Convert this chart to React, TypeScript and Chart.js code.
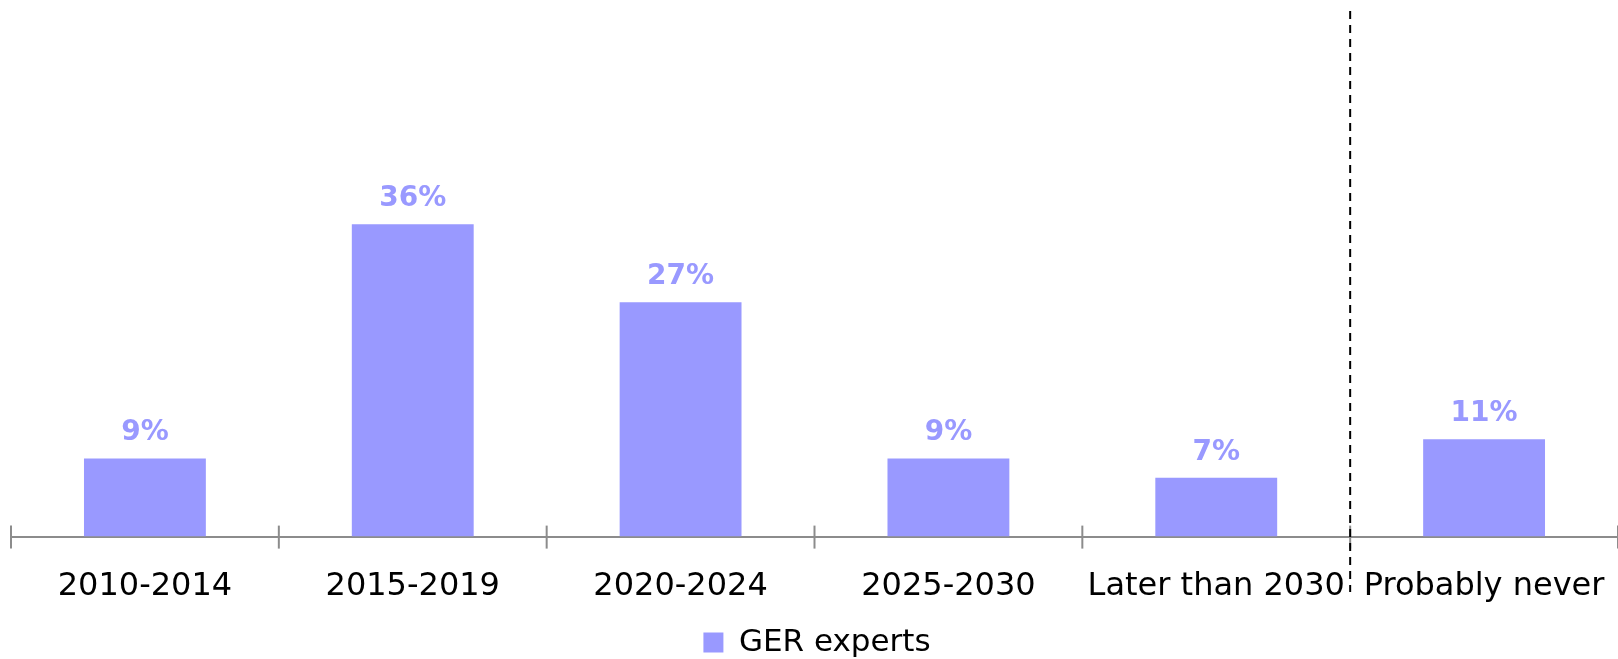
import React, { useEffect, useRef } from "react";
import { Chart, registerables } from "chart.js";

Chart.register(...registerables);

const categories = ["2010-2014", "2015-2019", "2020-2024", "2025-2030", "Later than 2030", "Probably never"];
const gerExperts = [8.9, 35.6, 26.7, 8.9, 6.7, 11.1];
const seriesLabel = "GER experts";
const yMax = 60;

const barColor = "#9999ff";
const axisColor = "#8c8c8c";
const fontFamily = "'DejaVu Sans', Verdana, sans-serif";

const decorPlugin = {
  id: "decor",
  afterDatasetsDraw(chart: any) {
    const { ctx } = chart;
    const x = chart.scales.x;
    const area = chart.chartArea;
    const step = x.getPixelForValue(1) - x.getPixelForValue(0);
    const first = x.getPixelForValue(0) - step / 2;
    const axisY = area.bottom;
    ctx.save();
    ctx.strokeStyle = axisColor;
    ctx.lineWidth = 2;
    for (let i = 0; i <= categories.length; i++) {
      const px = first + i * step;
      ctx.beginPath();
      ctx.moveTo(px, axisY - 11);
      ctx.lineTo(px, axisY + 12);
      ctx.stroke();
    }
    const sepX = first + (categories.length - 1) * step;
    ctx.strokeStyle = "#000";
    ctx.lineWidth = 2;
    ctx.setLineDash([8, 6]);
    ctx.beginPath();
    ctx.moveTo(sepX, area.top + 1);
    ctx.lineTo(sepX, 592);
    ctx.stroke();
    ctx.setLineDash([]);
    const meta = chart.getDatasetMeta(0);
    ctx.fillStyle = barColor;
    ctx.font = `bold 28px ${fontFamily}`;
    ctx.textAlign = "center";
    ctx.textBaseline = "alphabetic";
    meta.data.forEach((el: any, i: number) => {
      const v = chart.data.datasets[0].data[i] as number;
      ctx.fillText(`${Math.round(v)}%`, el.x, el.y - 18);
    });
    ctx.restore();
  },
};

export default function App() {
  const ref = useRef<HTMLCanvasElement | null>(null);
  useEffect(() => {
    document.body.style.margin = "0";
    const chart = new Chart(ref.current!, {
      type: "bar",
      data: {
        labels: categories,
        datasets: [
          {
            label: seriesLabel,
            data: gerExperts,
            backgroundColor: barColor,
            borderWidth: 0,
            categoryPercentage: 1,
            barPercentage: 0.455,
          },
        ],
      },
      options: {
        responsive: false,
        animation: false,
        devicePixelRatio: 1,
        layout: { padding: { left: 11, top: 10, right: -5, bottom: -9 } },
        plugins: {
          legend: {
            position: "bottom",
            labels: {
              boxWidth: 20,
              boxHeight: 20,
              padding: 21,
              color: "#000",
              font: { family: fontFamily, size: 31 },
            },
          },
          tooltip: { enabled: false },
        },
        scales: {
          x: {
            grid: {
              display: true,
              drawOnChartArea: false,
              drawTicks: true,
              tickLength: 31,
              color: "rgba(0,0,0,0)",
            },
            border: { display: true, color: axisColor, width: 2 },
            ticks: {
              color: "#000",
              padding: 0,
              font: { family: fontFamily, size: 32 },
              maxRotation: 0,
              autoSkip: false,
            },
          },
          y: {
            display: false,
            min: 0,
            max: yMax,
          },
        },
      },
      plugins: [decorPlugin],
    });
    return () => chart.destroy();
  }, []);
  return (
    <div style={{ width: 1618, height: 659 }}>
      <canvas ref={ref} width={1618} height={659} style={{ display: "block" }} />
    </div>
  );
}
